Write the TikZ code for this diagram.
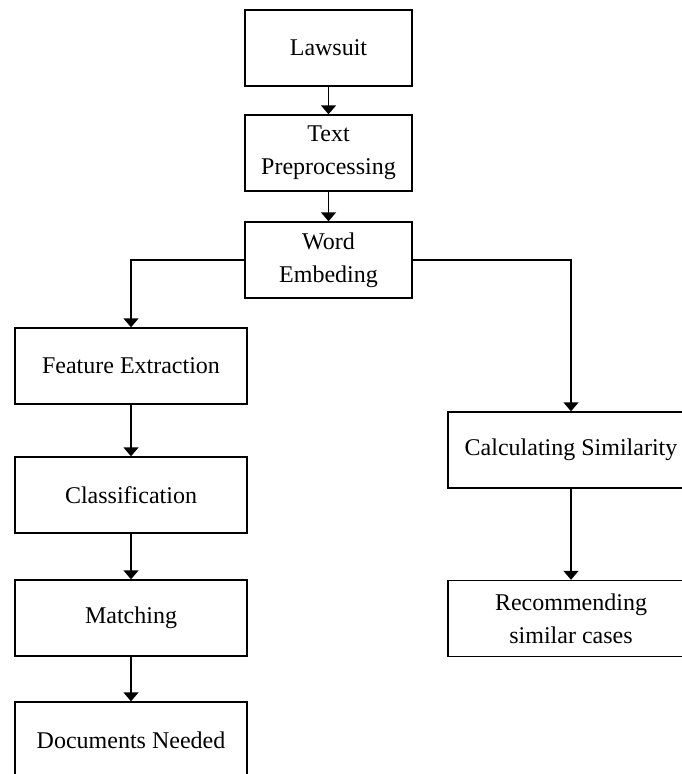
\documentclass[tikz,border=0pt]{standalone}
\usepackage{fontspec}
\setmainfont{Liberation Serif}
\usetikzlibrary{arrows.meta}

\tikzstyle{stage}=[draw, line width = 1.4pt, minimum height = 76pt, inner sep = 0pt,
  align = center, font = \fontsize{24}{33}\selectfont]
\tikzstyle{flow}=[->, line width = 1.4pt]

\begin{document}
\begin{tikzpicture}[x = 1pt, y = -1pt, >={Triangle[width = 15pt, length = 9pt]}]
\useasboundingbox (0,0) rectangle (682,774);
\clip (0,0) rectangle (682,774);
%
\draw(328.5,48) node[stage, minimum width = 167pt](lawsuit){Lawsuit};
\draw(328.5,153) node[stage, minimum width = 167pt](textpre){Text\\Preprocessing};
\draw(328.5,260) node[stage, minimum width = 167pt](wordemb){Word\\Embeding};
\draw[flow] (lawsuit) -- (textpre);
\draw[flow] (textpre) -- (wordemb);
%
\draw(131,366) node[stage, minimum width = 232pt](feature){Feature Extraction};
\draw(131,495) node[stage, minimum width = 232pt](classif){Classification};
\draw(131,618) node[stage, minimum width = 232pt](matching){Matching};
\draw(131,740) node[stage, minimum width = 232pt](docs){Documents Needed};
\draw[flow] (wordemb.west) -| (feature.north);
\draw[flow] (feature) -- (classif);
\draw[flow] (classif) -- (matching);
\draw[flow] (matching) -- (docs);
%
\draw(571,450) node[stage, minimum width = 246pt](calcsim){Calculating Similarity};
\draw(571,618.5) node[stage, minimum width = 246pt](recomm){Recommending\\similar cases};
\draw[flow] (wordemb.east) -| (calcsim.north);
\draw[flow] (calcsim) -- (recomm);
\end{tikzpicture}
\end{document}
